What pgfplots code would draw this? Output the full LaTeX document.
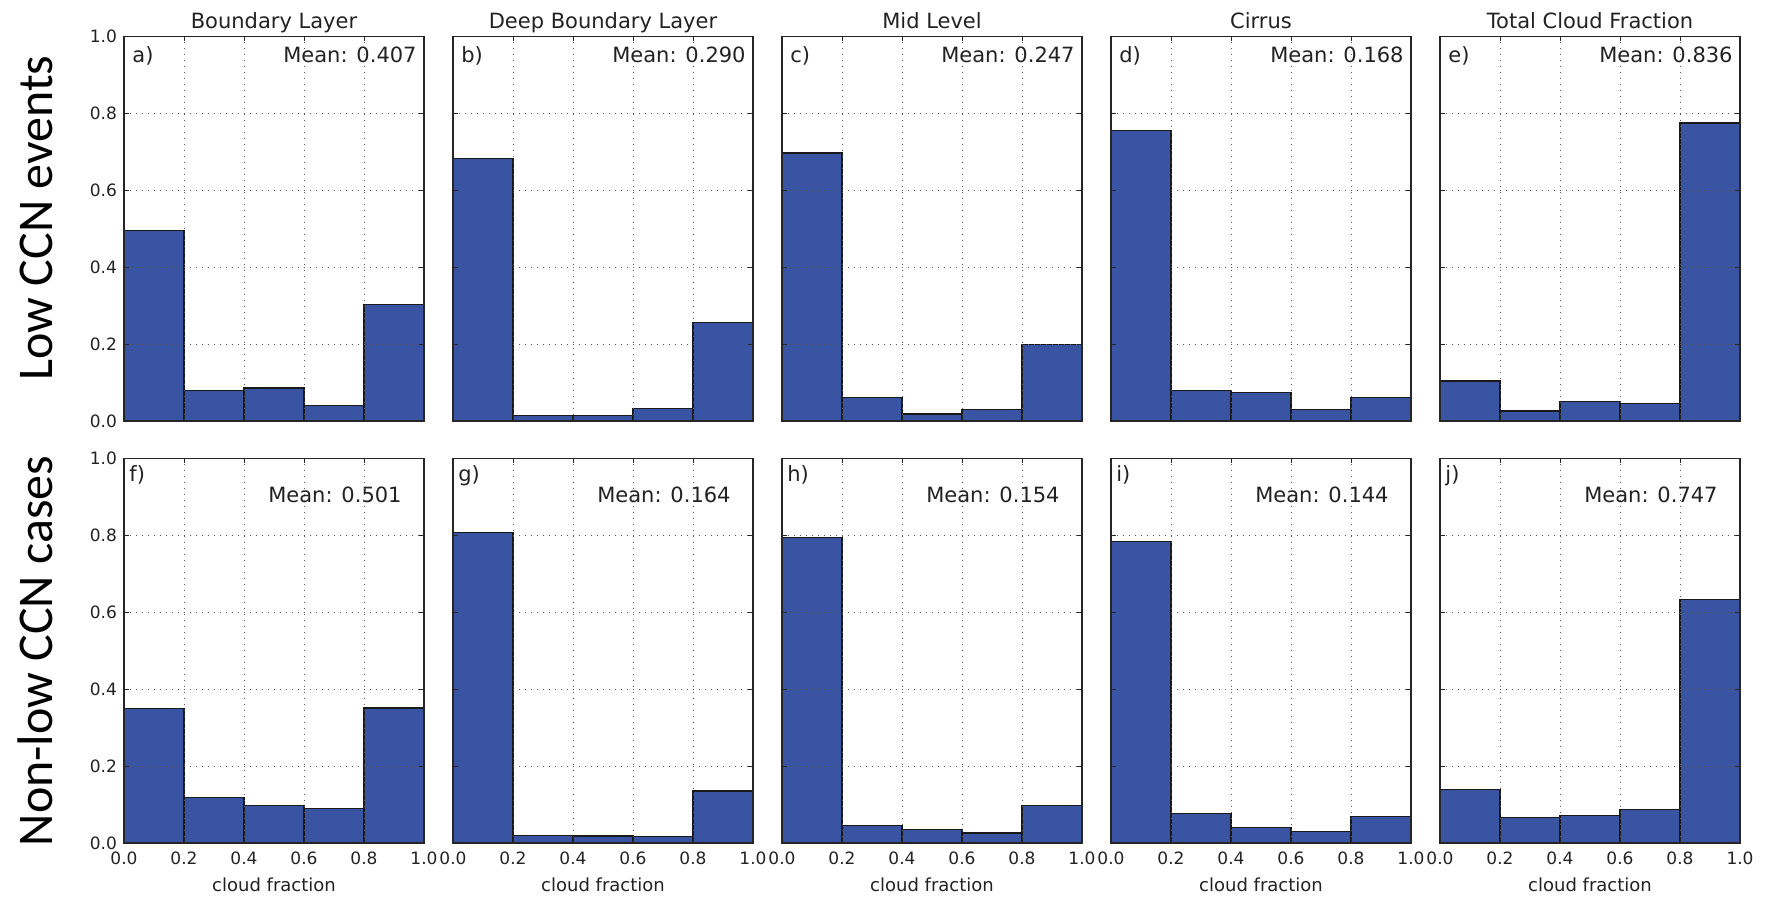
\documentclass[border=0pt]{standalone}
\usepackage{pgfplots}
\pgfplotsset{compat=1.18}
\usepackage{fontspec}
\setmainfont{DejaVu Sans}
\newfontfamily\rowfont{Carlito}
\definecolor{barblue}{RGB}{58,84,164}
\definecolor{textc}{RGB}{34,34,34}
\newcommand{\titlefont}{\fontsize{10.5}{12}\selectfont}
\newcommand{\meanfont}{\fontsize{10.5}{12}\selectfont}
\pgfplotsset{
  base/.style={
    scale only axis, width=150pt, height=192.25pt,
    anchor=south west,
    xmin=0, xmax=1, ymin=0, ymax=1,
    xtick={0,0.2,0.4,0.6,0.8,1},
    ytick={0,0.2,0.4,0.6,0.8,1},
    grid=major,
    major grid style={black!65, line width=0.5pt, dash pattern=on 0.6pt off 2.4pt},
    axis on top,
    axis line style={black!85, line width=0.6pt},
    major tick style={black!85, line width=0.5pt},
    major tick length=2.5pt,
    tick align=inside,
    tick label style={font=\fontsize{8.5}{10}\selectfont, text=textc},
    xticklabel style={yshift=-1pt},
    /pgf/number format/fixed,
    /pgf/number format/fixed zerofill,
    /pgf/number format/precision=1,
    /pgf/number format/assume math mode=true,
    title style={at={(0.5,1)}, anchor=base, yshift=-2pt, font=\titlefont, text=textc},
    xlabel style={at={(axis description cs:0.5,0)}, anchor=base, yshift=-24.5pt, font=\fontsize{9}{10}\selectfont, text=textc},
  },
  row1/.style={base, xticklabels={}},
  row2/.style={base, xlabel={cloud fraction}},
  inner/.style={yticklabels={}},
  bars/.style={ybar interval, fill=barblue, draw=black!90, line width=0.6pt},
}
\newcommand{\toplabels}[2]{%
  \node[anchor=base west, xshift=4pt, yshift=-13pt, font=\meanfont, text=textc, inner sep=0pt] at (rel axis cs:0,1) {#1};
  \node[anchor=base east, xshift=-3.5pt, yshift=-13pt, font=\meanfont, text=textc, inner sep=0pt] at (rel axis cs:1,1) {Mean: #2};
}
\newcommand{\botlabels}[2]{%
  \node[anchor=base west, xshift=2.5pt, yshift=-11.5pt, font=\meanfont, text=textc, inner sep=0pt] at (rel axis cs:0,1) {#1};
  \node[anchor=base east, xshift=-11pt, yshift=-22pt, font=\meanfont, text=textc, inner sep=0pt] at (rel axis cs:1,1) {Mean: #2};
}
\begin{document}
\begin{tikzpicture}
\path[use as bounding box] (0,0) rectangle (886.5pt,448.5pt);

% Row labels
\node[rotate=90, anchor=base, font=\rowfont\fontsize{25}{30}\selectfont, text=black] at (26pt,339.5pt) {Low CCN events};
\node[rotate=90, anchor=base, font=\rowfont\fontsize{25}{30}\selectfont, text=black] at (26pt,123pt) {Non-low CCN cases};

% ---------- Row 1 ----------
\begin{axis}[row1, at={(62pt,238pt)}, title={Boundary Layer}]
\addplot[bars] coordinates {(0,0.496) (0.2,0.080) (0.4,0.086) (0.6,0.040) (0.8,0.303) (1,0.303)};
\toplabels{a)}{0.407}
\end{axis}

\begin{axis}[row1, inner, at={(226.5pt,238pt)}, title={Deep Boundary Layer}]
\addplot[bars] coordinates {(0,0.682) (0.2,0.015) (0.4,0.015) (0.6,0.033) (0.8,0.257) (1,0.257)};
\toplabels{b)}{0.290}
\end{axis}

\begin{axis}[row1, inner, at={(391pt,238pt)}, title={Mid Level}]
\addplot[bars] coordinates {(0,0.697) (0.2,0.062) (0.4,0.018) (0.6,0.029) (0.8,0.198) (1,0.198)};
\toplabels{c)}{0.247}
\end{axis}

\begin{axis}[row1, inner, at={(555.5pt,238pt)}, title={Cirrus}]
\addplot[bars] coordinates {(0,0.756) (0.2,0.080) (0.4,0.075) (0.6,0.029) (0.8,0.062) (1,0.062)};
\toplabels{d)}{0.168}
\end{axis}

\begin{axis}[row1, inner, at={(720pt,238pt)}, title={Total Cloud Fraction}]
\addplot[bars] coordinates {(0,0.104) (0.2,0.026) (0.4,0.050) (0.6,0.046) (0.8,0.775) (1,0.775)};
\toplabels{e)}{0.836}
\end{axis}

% ---------- Row 2 ----------
\begin{axis}[row2, at={(62pt,27pt)}]
\addplot[bars] coordinates {(0,0.349) (0.2,0.118) (0.4,0.097) (0.6,0.089) (0.8,0.351) (1,0.351)};
\botlabels{f)}{0.501}
\end{axis}

\begin{axis}[row2, inner, at={(226.5pt,27pt)}]
\addplot[bars] coordinates {(0,0.807) (0.2,0.019) (0.4,0.018) (0.6,0.016) (0.8,0.135) (1,0.135)};
\botlabels{g)}{0.164}
\end{axis}

\begin{axis}[row2, inner, at={(391pt,27pt)}]
\addplot[bars] coordinates {(0,0.794) (0.2,0.046) (0.4,0.036) (0.6,0.026) (0.8,0.098) (1,0.098)};
\botlabels{h)}{0.154}
\end{axis}

\begin{axis}[row2, inner, at={(555.5pt,27pt)}]
\addplot[bars] coordinates {(0,0.785) (0.2,0.076) (0.4,0.041) (0.6,0.029) (0.8,0.069) (1,0.069)};
\botlabels{i)}{0.144}
\end{axis}

\begin{axis}[row2, inner, at={(720pt,27pt)}]
\addplot[bars] coordinates {(0,0.140) (0.2,0.067) (0.4,0.072) (0.6,0.088) (0.8,0.633) (1,0.633)};
\botlabels{j)}{0.747}
\end{axis}
\end{tikzpicture}
\end{document}
